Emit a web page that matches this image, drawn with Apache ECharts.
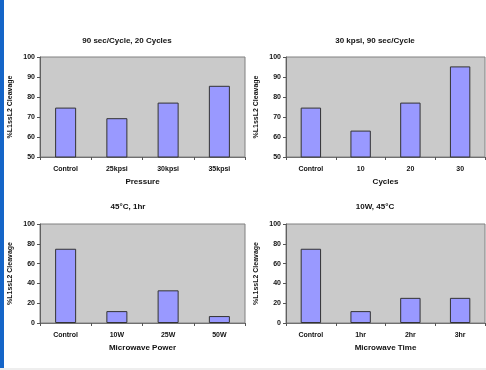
<!DOCTYPE html>
<html><head><meta charset="utf-8">
<script src="https://cdn.jsdelivr.net/npm/echarts@6/dist/echarts.min.js"></script>
<style>html,body{margin:0;padding:0;background:#fff}#c{width:486px;height:370px}</style>
</head><body><div id="c"></div>
<script>
const titles = ["90 sec/Cycle, 20 Cycles", "30 kpsi, 90 sec/Cycle", "45\u00B0C, 1hr", "10W, 45\u00B0C"];
const xNames = ["Pressure", "Cycles", "Microwave Power", "Microwave Time"];
const yName = "%L1ssL2 Cleavage";
const cats1 = ["Control", "25kpsi", "30kpsi", "35kpsi"];
const cats2 = ["Control", "10", "20", "30"];
const cats3 = ["Control", "10W", "25W", "50W"];
const cats4 = ["Control", "1hr", "2hr", "3hr"];
const vals1 = [74.7, 69.4, 77.2, 85.6];
const vals2 = [74.7, 63.2, 77.2, 95.3];
const vals3 = [75, 12, 33, 7];
const vals4 = [75, 12, 25.4, 25.4];
const yMin = [50, 50, 0, 0];
const yInt = [10, 10, 20, 20];

const cats = [cats1, cats2, cats3, cats4];
const vals = [vals1, vals2, vals3, vals4];
const grids = [
  {left: 40, top: 57, width: 205, height: 100},
  {left: 286, top: 57, width: 199, height: 100},
  {left: 40, top: 224, width: 205, height: 99},
  {left: 286, top: 224, width: 199, height: 99}
];
const titlePos = [[122, 32], [370, 32], [123, 198], [370, 198]];
const font = "'Liberation Sans', Arial, sans-serif";
const chart = echarts.init(document.getElementById('c'), null, {renderer: 'canvas'});
const opt = {
  animation: false,
  backgroundColor: '#fff',
  title: titles.map((t, i) => ({
    text: t, left: titlePos[i][0], top: titlePos[i][1], textAlign: 'center',
    textStyle: {fontFamily: font, fontSize: 8, fontWeight: 'bold', color: '#111'}
  })),
  grid: grids.map(g => Object.assign({show: true, backgroundColor: '#CACACA', borderColor: '#808080', borderWidth: 1}, g)),
  xAxis: cats.map((c, i) => ({
    type: 'category', gridIndex: i, data: c,
    name: xNames[i], nameLocation: 'middle', nameGap: 21,
    nameTextStyle: {fontFamily: font, fontSize: 8, fontWeight: 'bold', color: '#111'},
    axisLine: {lineStyle: {color: '#707070', width: 1}},
    axisTick: {show: true, length: 3, lineStyle: {color: '#555'}},
    axisLabel: {fontFamily: font, fontSize: 7, fontWeight: 'bold', color: '#111', margin: 9}
  })),
  yAxis: vals.map((v, i) => ({
    type: 'value', gridIndex: i, min: yMin[i], max: 100, interval: yInt[i],
    name: yName, nameLocation: 'middle', nameGap: 26, nameRotate: 90,
    nameTextStyle: {fontFamily: font, fontSize: 7, fontWeight: 'bold', color: '#111'},
    axisLine: {show: true, lineStyle: {color: '#606060', width: 1}},
    axisTick: {show: true, length: 3, lineStyle: {color: '#555'}},
    splitLine: {show: false},
    axisLabel: {fontFamily: font, fontSize: 7, fontWeight: 'bold', color: '#111', margin: 5}
  })),
  series: vals.map((v, i) => ({
    type: 'bar', xAxisIndex: i, yAxisIndex: i, data: v, barWidth: '41%',
    itemStyle: {color: '#9999FF', borderColor: '#333', borderWidth: 1}
  })),
  graphic: [
    {type: 'rect', shape: {x: 0, y: 0, width: 4, height: 368}, style: {fill: '#1565C8'}},
    {type: 'rect', shape: {x: 0, y: 368, width: 486, height: 2}, style: {fill: '#EEEEEE'}}
  ]
};
chart.setOption(opt);
</script></body></html>
